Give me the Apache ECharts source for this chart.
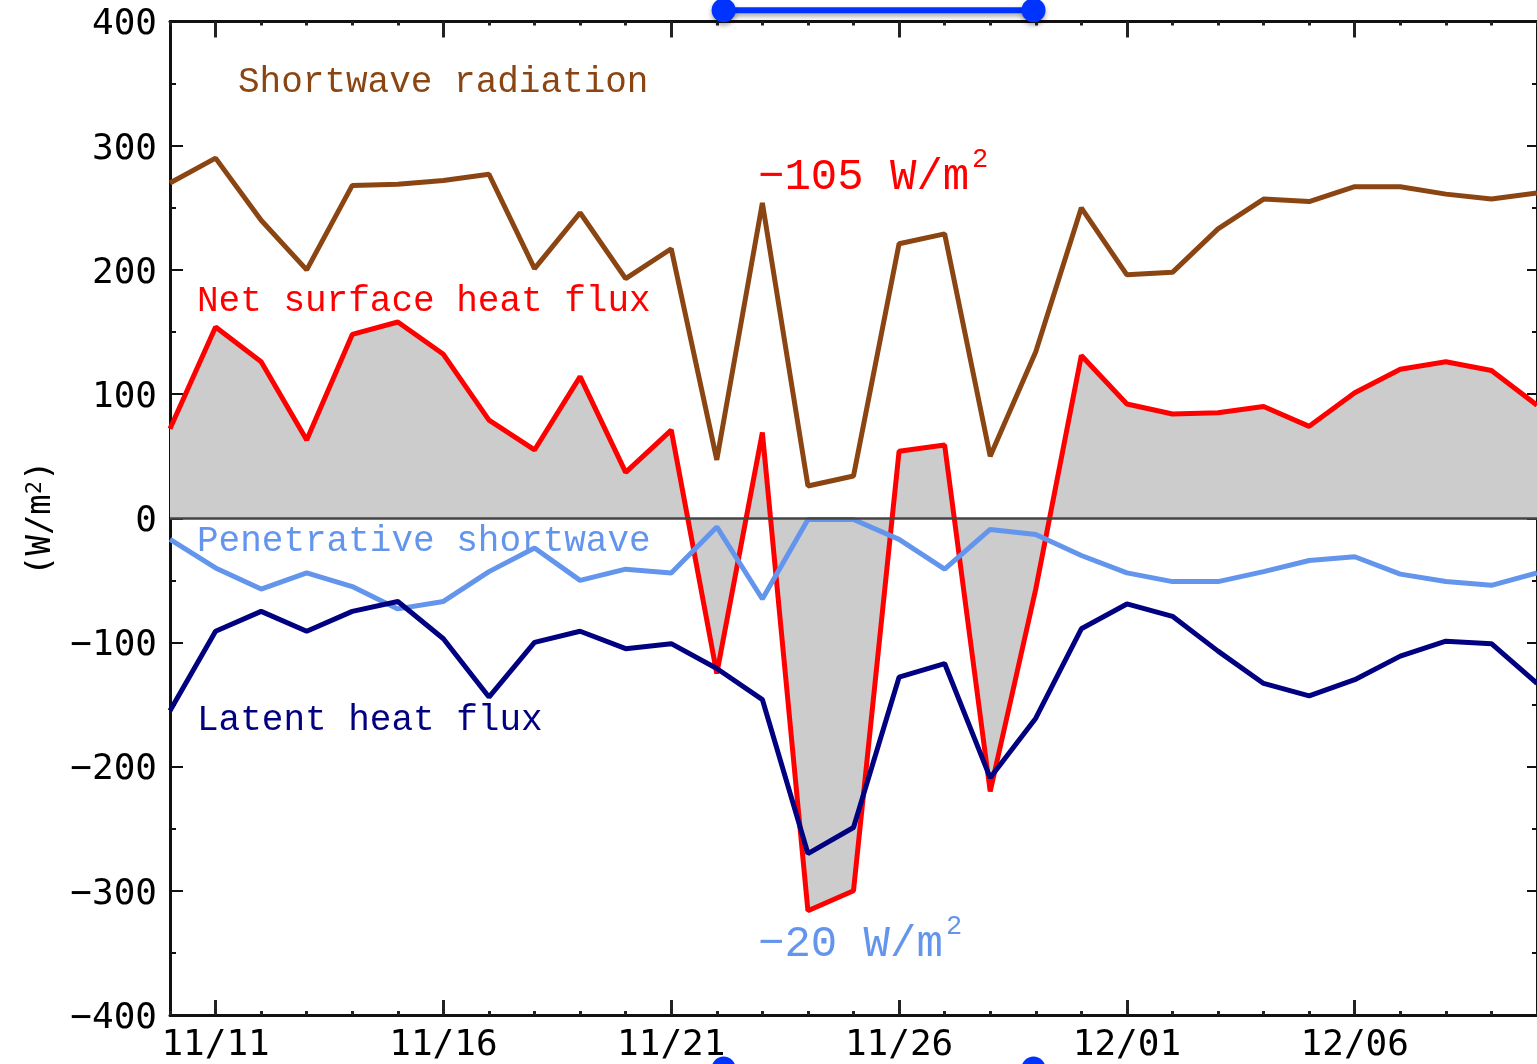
<!DOCTYPE html>
<html>
<head>
<meta charset="utf-8">
<script src="https://cdn.jsdelivr.net/npm/echarts@6/dist/echarts.min.js"></script>
<style>
html,body{margin:0;padding:0;background:#fff;}
#chart{width:1537px;height:1064px;}
</style>
</head>
<body>
<div id="chart"></div>
<script>
// ---- data (one value per day, 11/10 .. 12/10) ----
const dates = ['11/10','11/11','11/12','11/13','11/14','11/15','11/16','11/17','11/18','11/19','11/20',
  '11/21','11/22','11/23','11/24','11/25','11/26','11/27','11/28','11/29','11/30',
  '12/01','12/02','12/03','12/04','12/05','12/06','12/07','12/08','12/09','12/10'];
const shortwave = [270,290,240,200,268,269,272,277,201,246,193,217,47,254,26,34,221,229,50,134,250,196,198,233,257,255,267,267,261,257,262];
const netFlux = [72,154,126,63,148,158,132,79,55,114,37,71,-125,69,-316,-300,54,59,-220,-57,131,92,84,85,90,74,101,120,126,119,91];
const penetrative = [-17,-40,-57,-44,-55,-73,-67,-43,-24,-50,-41,-44,-7,-65,-1,-1,-17,-41,-9,-13,-30,-44,-51,-51,-43,-34,-31,-45,-51,-54,-44];
const latent = [-155,-91,-75,-91,-75,-67,-97,-144,-100,-91,-105,-101,-121,-146,-270,-249,-128,-117,-209,-161,-89,-69,-79,-107,-133,-143,-130,-111,-99,-101,-133];
const majorTickDays = [1,6,11,16,21,26];
const periodDays = [12.15, 18.95];
const periodLevels = [409, -443];

const pairs = arr => arr.map((v,i)=>[i,v]);
const LABEL_FONT = 'DejaVu Sans Mono';
const MONO = 'Liberation Mono';

const chart = echarts.init(document.getElementById('chart'));
const baseX = {type:'value', min:0, max:dates.length-1, splitLine:{show:false}};
const option = {
  animation:false,
  backgroundColor:'#fff',
  grid:{left:170, top:21.5, width:1368, height:996, containLabel:false},
  xAxis:[
    Object.assign({}, baseX, {position:'bottom',
      axisLine:{show:true, onZero:false, lineStyle:{color:'#111', width:3}},
      axisTick:{show:true, inside:true, length:15, customValues:majorTickDays, lineStyle:{color:'#222', width:3}},
      axisLabel:{show:true, customValues:majorTickDays, formatter:v=>dates[Math.round(v)], margin:13,
        fontFamily:LABEL_FONT, fontSize:36, color:'#000'}}),
    Object.assign({}, baseX, {position:'bottom', interval:1,
      axisLine:{show:false, onZero:false},
      axisTick:{show:true, inside:true, length:4, lineStyle:{color:'#222', width:3}},
      axisLabel:{show:false}}),
    Object.assign({}, baseX, {position:'top',
      axisLine:{show:true, onZero:false, lineStyle:{color:'#111', width:3}},
      axisTick:{show:true, inside:true, length:16, customValues:majorTickDays, lineStyle:{color:'#222', width:3}},
      axisLabel:{show:false}}),
    Object.assign({}, baseX, {position:'top', interval:1,
      axisLine:{show:false, onZero:false},
      axisTick:{show:true, inside:true, length:4, lineStyle:{color:'#222', width:3}},
      axisLabel:{show:false}})
  ],
  yAxis:[
    {type:'value', position:'left', min:-400, max:400, interval:100,
      axisLine:{show:true, onZero:false, lineStyle:{color:'#111', width:3}},
      axisTick:{show:true, inside:true, length:13, lineStyle:{color:'#111', width:2}},
      minorTick:{show:true, splitNumber:2, length:6, lineStyle:{color:'#111', width:2}},
      splitLine:{show:false},
      axisLabel:{margin:13, color:'#000',
        formatter:v=>'{a|' + String(v).replace('-', '\u2212') + '}',
        rich:{a:{fontFamily:LABEL_FONT, fontSize:36, color:'#000', padding:[7,0,0,0]}}},
      name:'{p|(W/m}{s|2}{p|)}', nameLocation:'middle', nameGap:112, nameRotate:90,
      nameTextStyle:{fontSize:34, fontFamily:LABEL_FONT, rich:{
        p:{fontFamily:LABEL_FONT, fontSize:34, color:'#000'},
        s:{fontFamily:LABEL_FONT, fontSize:22, color:'#000', verticalAlign:'top'}
      }}},
    {type:'value', position:'right', min:-400, max:400, interval:100,
      axisLine:{show:true, onZero:false, lineStyle:{color:'#111', width:3}},
      axisTick:{show:true, inside:true, length:10, lineStyle:{color:'#111', width:2}},
      minorTick:{show:true, splitNumber:2, length:5, lineStyle:{color:'#111', width:2}},
      splitLine:{show:false}, axisLabel:{show:false}}
  ],
  series:[
    {name:'fill', type:'line', data:pairs(netFlux), symbol:'none', z:1,
      lineStyle:{width:0}, areaStyle:{color:'#cccccc', opacity:1},
      markLine:{silent:true, symbol:'none', label:{show:false},
        lineStyle:{color:'#444', width:2.5, type:'solid'}, data:[{yAxis:0}]}},
    {name:'Net surface heat flux', type:'line', data:pairs(netFlux), symbol:'none', z:3,
      lineStyle:{color:'#ff0000', width:5}},
    {name:'Shortwave radiation', type:'line', data:pairs(shortwave), symbol:'none', z:3,
      lineStyle:{color:'#8b4513', width:5}},
    {name:'Penetrative shortwave', type:'line', data:pairs(penetrative), symbol:'none', z:4,
      lineStyle:{color:'#6495ed', width:5}},
    {name:'Latent heat flux', type:'line', data:pairs(latent), symbol:'none', z:5,
      lineStyle:{color:'#000080', width:5}},
    {name:'period top', type:'line', clip:false, z:6, symbol:'circle', symbolSize:24,
      data:periodDays.map(d=>[d, periodLevels[0]]),
      itemStyle:{color:'#0033ff', shadowColor:'rgba(0,0,0,0.35)', shadowBlur:5, shadowOffsetY:3},
      lineStyle:{color:'#0033ff', width:6, shadowColor:'rgba(0,0,0,0.35)', shadowBlur:5, shadowOffsetY:3}},
    {name:'period bottom', type:'line', clip:false, z:6, symbol:'circle', symbolSize:24,
      data:periodDays.map(d=>[d, periodLevels[1]]),
      itemStyle:{color:'#0033ff'}, lineStyle:{color:'#0033ff', width:6}}
  ],
  graphic:[
    {type:'text', x:238, y:82, style:{text:'Shortwave radiation', fill:'#8b4513', font:'36px "'+MONO+'"', verticalAlign:'middle'}},
    {type:'text', x:197, y:301, style:{text:'Net surface heat flux', fill:'#ff0000', font:'36px "'+MONO+'"', verticalAlign:'middle'}},
    {type:'text', x:197, y:541, style:{text:'Penetrative shortwave', fill:'#6495ed', font:'36px "'+MONO+'"', verticalAlign:'middle'}},
    {type:'text', x:197, y:720, style:{text:'Latent heat flux', fill:'#000080', font:'36px "'+MONO+'"', verticalAlign:'middle'}},
    {type:'text', x:758, y:177, style:{text:'\u2212105 W/m', fill:'#ff0000', font:'44px "'+MONO+'"', verticalAlign:'middle'}},
    {type:'text', x:972, y:146, style:{text:'2', fill:'#ff0000', font:'27px "'+MONO+'"', verticalAlign:'top'}},
    {type:'text', x:758, y:944, style:{text:'\u221220 W/m', fill:'#6495ed', font:'44px "'+MONO+'"', verticalAlign:'middle'}},
    {type:'text', x:946, y:913, style:{text:'2', fill:'#6495ed', font:'27px "'+MONO+'"', verticalAlign:'top'}}
  ]
};
chart.setOption(option);
</script>
</body>
</html>
